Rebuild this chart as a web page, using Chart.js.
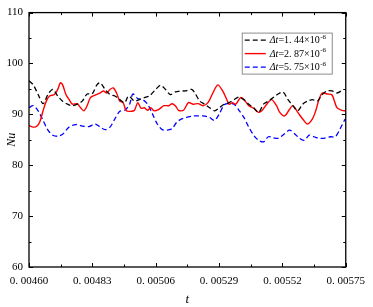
<!DOCTYPE html>
<html>
<head>
<meta charset="utf-8">
<script src="https://cdn.jsdelivr.net/npm/chart.js@4/dist/chart.umd.min.js"></script>
<style>
  html, body { margin: 0; padding: 0; background: #fff; }
  canvas { display: block; }
</style>
</head>
<body>
<canvas id="nu-chart" width="373" height="307"></canvas>
<script>
// Axis ticks
const xTicks = [0.0046, 0.00483, 0.00506, 0.00529, 0.00552, 0.00575];
const xTickLabels = ["0. 00460", "0. 00483", "0. 00506", "0. 00529", "0. 00552", "0. 00575"];
const yTicks = [60, 70, 80, 90, 100, 110];

// Legend values (Δt = value × 10^-6)
const dtLabels = ["1. 44", "2. 87", "5. 75"];

// Δt = 1.44e-6 (black dashed)
const tBlack = [
    0.0046000, 0.0046154, 0.0046332, 0.0046510, 0.0046688, 0.0046865, 0.0047043, 0.0047221, 0.0047399, 0.0047577,
    0.0047755, 0.0047933, 0.0048110, 0.0048288, 0.0048466, 0.0048585, 0.0048762, 0.0048940, 0.0049118, 0.0049296,
    0.0049474, 0.0049616, 0.0049829, 0.0050007, 0.0050185, 0.0050363, 0.0050600, 0.0050778, 0.0050956, 0.0051134,
    0.0051311, 0.0051489, 0.0051667, 0.0051904, 0.0052023, 0.0052201, 0.0052379, 0.0052556, 0.0052734, 0.0052912,
    0.0053090, 0.0053268, 0.0053446, 0.0053623, 0.0053801, 0.0053979, 0.0054157, 0.0054335, 0.0054513, 0.0054690,
    0.0054868, 0.0055046, 0.0055224, 0.0055402, 0.0055580, 0.0055758, 0.0055935, 0.0056113, 0.0056291, 0.0056469,
    0.0056647, 0.0056824, 0.0057002, 0.0057180, 0.0057417
];
const nuBlack = [
    96.6, 95.8, 93.9, 92.1, 93.9, 94.9, 93.6, 92.6, 92.0, 91.7,
    92.0, 92.6, 94.0, 94.0, 95.8, 96.2, 94.9, 93.9, 93.6, 92.9,
    92.3, 93.6, 92.6, 92.9, 93.3, 93.6, 94.9, 95.7, 94.9, 93.9,
    94.4, 94.6, 94.6, 94.9, 94.2, 92.6, 92.0, 91.3, 90.7, 91.3,
    92.0, 92.3, 92.9, 93.4, 92.9, 92.0, 91.3, 90.4, 92.0, 92.6,
    93.3, 94.0, 94.4, 92.9, 91.7, 90.7, 92.0, 92.6, 92.9, 92.6,
    93.9, 94.6, 94.6, 94.2, 94.9
];

// Δt = 2.87e-6 (red solid)
const tRed = [
    0.0046000, 0.0046154, 0.0046273, 0.0046391, 0.0046510, 0.0046628, 0.0046747, 0.0046925, 0.0047043, 0.0047138,
    0.0047221, 0.0047340, 0.0047458, 0.0047577, 0.0047755, 0.0047873, 0.0047992, 0.0048110, 0.0048229, 0.0048407,
    0.0048585, 0.0048703, 0.0048822, 0.0048940, 0.0049059, 0.0049178, 0.0049296, 0.0049415, 0.0049533, 0.0049711,
    0.0049829, 0.0049948, 0.0050067, 0.0050185, 0.0050304, 0.0050422, 0.0050541, 0.0050719, 0.0050896, 0.0051074,
    0.0051193, 0.0051311, 0.0051430, 0.0051608, 0.0051786, 0.0051964, 0.0052141, 0.0052319, 0.0052497, 0.0052675,
    0.0052853, 0.0053031, 0.0053149, 0.0053268, 0.0053386, 0.0053505, 0.0053683, 0.0053801, 0.0053979, 0.0054157,
    0.0054335, 0.0054453, 0.0054631, 0.0054809, 0.0054987, 0.0055105, 0.0055283, 0.0055461, 0.0055580, 0.0055758,
    0.0055935, 0.0056113, 0.0056291, 0.0056410, 0.0056528, 0.0056647, 0.0056824, 0.0057002, 0.0057180, 0.0057358,
    0.0057500
];
const nuRed = [
    87.8, 87.5, 87.6, 88.5, 90.7, 92.6, 93.6, 93.9, 94.9, 96.2,
    95.8, 93.9, 92.9, 92.0, 92.1, 91.3, 90.7, 91.7, 93.3, 93.8,
    94.2, 94.6, 94.2, 94.9, 95.2, 94.2, 92.6, 92.3, 90.7, 90.6,
    90.8, 92.3, 91.2, 91.3, 90.8, 91.3, 90.7, 91.0, 91.7, 91.7,
    92.1, 91.7, 90.8, 90.8, 92.3, 92.0, 92.1, 91.7, 92.3, 94.2,
    95.8, 94.6, 93.3, 92.0, 92.3, 92.0, 93.3, 92.9, 91.7, 91.2,
    90.4, 90.7, 92.0, 92.9, 91.7, 90.4, 89.7, 91.0, 91.7, 90.4,
    89.1, 88.1, 89.1, 90.7, 92.9, 94.2, 94.0, 93.8, 91.3, 90.8,
    90.7
];

// Δt = 5.75e-6 (blue dashed)
const tBlue = [
    0.0046000, 0.0046154, 0.0046332, 0.0046510, 0.0046688, 0.0046865, 0.0047043, 0.0047221, 0.0047458, 0.0047695,
    0.0047933, 0.0048170, 0.0048407, 0.0048585, 0.0048762, 0.0048940, 0.0049118, 0.0049296, 0.0049474, 0.0049652,
    0.0049770, 0.0049948, 0.0050126, 0.0050304, 0.0050482, 0.0050659, 0.0050837, 0.0051015, 0.0051193, 0.0051371,
    0.0051549, 0.0051726, 0.0051964, 0.0052141, 0.0052319, 0.0052556, 0.0052734, 0.0052912, 0.0053090, 0.0053268,
    0.0053446, 0.0053623, 0.0053801, 0.0053979, 0.0054157, 0.0054335, 0.0054513, 0.0054690, 0.0054868, 0.0055046,
    0.0055283, 0.0055461, 0.0055639, 0.0055817, 0.0055995, 0.0056172, 0.0056350, 0.0056528, 0.0056706, 0.0056943,
    0.0057121, 0.0057299, 0.0057477
];
const nuBlue = [
    91.3, 91.7, 90.7, 88.8, 86.9, 85.9, 85.7, 86.1, 87.5, 88.0,
    87.7, 87.6, 88.1, 87.5, 87.0, 87.5, 89.1, 90.6, 90.8, 92.0,
    94.0, 93.1, 92.9, 92.0, 90.1, 88.1, 87.0, 86.9, 87.2, 88.5,
    89.1, 89.4, 89.7, 89.7, 89.7, 89.4, 88.8, 90.1, 91.9, 92.1,
    92.0, 90.8, 89.4, 87.5, 85.9, 84.9, 84.6, 85.6, 85.4, 85.3,
    86.2, 86.9, 86.2, 85.3, 84.9, 85.9, 85.6, 85.3, 85.3, 85.6,
    85.6, 87.2, 89.1
];

const SERIF = '"Liberation Serif", "Times New Roman", serif';

function toPoints(ts, vs) {
    return ts.map((t, i) => ({ x: t, y: vs[i] }));
}

// Closed frame with inward major/minor ticks on all four sides.
const framePlugin = {
    id: "frame",
    afterDraw(chart) {
        const { ctx, chartArea: a, scales } = chart;
        const x = scales.x, y = scales.y;
        ctx.save();
        ctx.strokeStyle = "#000";
        ctx.lineWidth = 1.3;
        ctx.strokeRect(a.left, a.top, a.right - a.left, a.bottom - a.top);
        ctx.lineWidth = 1;
        ctx.beginPath();
        xTicks.forEach((v, i) => {
            const px = Math.round(x.getPixelForValue(v)) + 0.5;
            ctx.moveTo(px, a.bottom); ctx.lineTo(px, a.bottom - 4);
            ctx.moveTo(px, a.top); ctx.lineTo(px, a.top + 4);
            if (i < xTicks.length - 1) {
                const mx = Math.round(x.getPixelForValue((v + xTicks[i + 1]) / 2)) + 0.5;
                ctx.moveTo(mx, a.bottom); ctx.lineTo(mx, a.bottom - 2.5);
                ctx.moveTo(mx, a.top); ctx.lineTo(mx, a.top + 2.5);
            }
        });
        yTicks.forEach((v, i) => {
            const py = Math.round(y.getPixelForValue(v)) + 0.5;
            ctx.moveTo(a.left, py); ctx.lineTo(a.left + 4, py);
            ctx.moveTo(a.right, py); ctx.lineTo(a.right - 4, py);
            if (i < yTicks.length - 1) {
                const my = Math.round(y.getPixelForValue((v + yTicks[i + 1]) / 2)) + 0.5;
                ctx.moveTo(a.left, my); ctx.lineTo(a.left + 2.5, my);
                ctx.moveTo(a.right, my); ctx.lineTo(a.right - 2.5, my);
            }
        });
        ctx.stroke();
        ctx.restore();
    },
};

// Boxed legend with italic Δt and a superscript exponent.
const legendPlugin = {
    id: "boxLegend",
    afterDraw(chart) {
        const ctx = chart.ctx;
        const a = chart.chartArea;
        const box = { left: a.right - 104, top: a.top + 20, w: 90, h: 41 };
        ctx.save();
        ctx.fillStyle = "#fff";
        ctx.fillRect(box.left, box.top, box.w, box.h);
        ctx.strokeStyle = "#8c8c8c";
        ctx.lineWidth = 1;
        ctx.strokeRect(box.left + 0.5, box.top + 0.5, box.w, box.h);
        chart.data.datasets.forEach((ds, i) => {
            const cy = box.top + 7.5 + i * 13.5;
            ctx.strokeStyle = ds.borderColor;
            ctx.lineWidth = ds.borderWidth;
            ctx.setLineDash(ds.borderDash || []);
            ctx.beginPath();
            ctx.moveTo(box.left + 3, cy);
            ctx.lineTo(box.left + 24, cy);
            ctx.stroke();
            ctx.setLineDash([]);
            ctx.fillStyle = "#000";
            ctx.textBaseline = "middle";
            let tx = box.left + 28;
            ctx.font = "italic 10px " + SERIF;
            ctx.fillText("Δt", tx, cy + 0.5);
            tx += ctx.measureText("Δt").width;
            ctx.font = "10px " + SERIF;
            const mid = "=" + dtLabels[i] + "×10";
            ctx.fillText(mid, tx, cy + 0.5);
            tx += ctx.measureText(mid).width;
            ctx.font = "7px " + SERIF;
            ctx.fillText("-6", tx + 0.5, cy - 3);
        });
        ctx.restore();
    },
};

new Chart(document.getElementById("nu-chart"), {
    type: "line",
    data: {
        datasets: [
            {
                label: "Δt=1.44×10^-6",
                data: toPoints(tBlack, nuBlack),
                borderColor: "#000000",
                borderWidth: 1.3,
                borderDash: [5, 3],
                pointRadius: 0,
                tension: 0.3,
                fill: false,
            },
            {
                label: "Δt=2.87×10^-6",
                data: toPoints(tRed, nuRed),
                borderColor: "#ff0000",
                borderWidth: 1.4,
                pointRadius: 0,
                tension: 0.3,
                fill: false,
            },
            {
                label: "Δt=5.75×10^-6",
                data: toPoints(tBlue, nuBlue),
                borderColor: "#0000ff",
                borderWidth: 1.3,
                borderDash: [5, 3],
                pointRadius: 0,
                tension: 0.3,
                fill: false,
            },
        ],
    },
    options: {
        responsive: false,
        animation: false,
        events: [],
        layout: { padding: { top: 7, right: 21, left: 0, bottom: 0 } },
        plugins: {
            legend: { display: false },
            tooltip: { enabled: false },
        },
        scales: {
            x: {
                type: "linear",
                min: 0.0046,
                max: 0.00575,
                afterBuildTicks: s => { s.ticks = xTicks.map(v => ({ value: v })); },
                afterFit: s => { s.height = 40; },
                grid: { display: false, drawTicks: false },
                border: { display: false },
                ticks: {
                    autoSkip: false,
                    maxRotation: 0,
                    padding: 8,
                    color: "#000",
                    font: { family: SERIF, size: 11 },
                    callback: (v, i) => xTickLabels[i],
                },
                title: {
                    display: true,
                    text: "t",
                    color: "#000",
                    padding: { top: 0, bottom: 0 },
                    font: { family: SERIF, size: 13, style: "italic" },
                },
            },
            y: {
                min: 60,
                max: 110,
                afterBuildTicks: s => { s.ticks = yTicks.map(v => ({ value: v })); },
                afterFit: s => { s.width = 29; },
                grid: { display: false, drawTicks: false },
                border: { display: false },
                ticks: {
                    padding: 6,
                    color: "#000",
                    font: { family: SERIF, size: 11 },
                },
                title: {
                    display: true,
                    text: "Nu",
                    color: "#000",
                    padding: { top: 5, bottom: 0 },
                    font: { family: SERIF, size: 12, style: "italic" },
                },
            },
        },
    },
    plugins: [framePlugin, legendPlugin],
});
</script>
</body>
</html>
